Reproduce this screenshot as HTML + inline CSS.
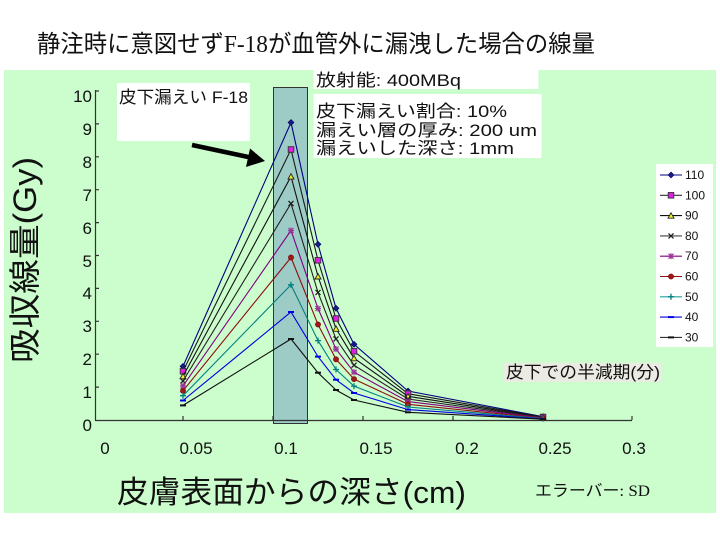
<!DOCTYPE html>
<html><head><meta charset="utf-8"><style>
html,body{margin:0;padding:0;background:#fff;}
svg{display:block;}
text{font-family:"Liberation Sans","Noto Sans CJK JP",sans-serif;fill:#111;}
</style></head><body>
<svg width="720" height="540" viewBox="0 0 720 540" xmlns="http://www.w3.org/2000/svg">
<defs>
<marker id="mDia" viewBox="0 0 10 10" refX="5" refY="5" markerWidth="10" markerHeight="10" markerUnits="userSpaceOnUse"><path d="M5 2 L8 5 L5 8 L2 5 Z" fill="#1a1a8c" stroke="#000060" stroke-width="0.6"/></marker>
<marker id="mSq" viewBox="0 0 10 10" refX="5" refY="5" markerWidth="10" markerHeight="10" markerUnits="userSpaceOnUse"><rect x="2.2" y="2.2" width="5.6" height="5.6" fill="#e020e0" stroke="#333" stroke-width="0.9"/></marker>
<marker id="mTri" viewBox="0 0 10 10" refX="5" refY="5" markerWidth="10" markerHeight="10" markerUnits="userSpaceOnUse"><path d="M5 2.2 L8 7.6 L2 7.6 Z" fill="#f0f020" stroke="#222" stroke-width="0.9"/></marker>
<marker id="mX" viewBox="0 0 10 10" refX="5" refY="5" markerWidth="10" markerHeight="10" markerUnits="userSpaceOnUse"><path d="M2.5 2.5 L7.5 7.5 M7.5 2.5 L2.5 7.5" stroke="#222" stroke-width="1.3"/></marker>
<marker id="mStar" viewBox="0 0 10 10" refX="5" refY="5" markerWidth="10" markerHeight="10" markerUnits="userSpaceOnUse"><path d="M2.5 2.5 L7.5 7.5 M7.5 2.5 L2.5 7.5 M5 2 L5 8 M2 5 L8 5" stroke="#9a339a" stroke-width="1.2"/></marker>
<marker id="mCir" viewBox="0 0 10 10" refX="5" refY="5" markerWidth="10" markerHeight="10" markerUnits="userSpaceOnUse"><circle cx="5" cy="5" r="2.6" fill="#a01818" stroke="#700" stroke-width="0.6"/></marker>
<marker id="mPlus" viewBox="0 0 10 10" refX="5" refY="5" markerWidth="10" markerHeight="10" markerUnits="userSpaceOnUse"><path d="M5 2 L5 8 M2 5 L8 5" stroke="#008080" stroke-width="1.3"/></marker>
<marker id="mD40" viewBox="0 0 10 10" refX="5" refY="5" markerWidth="10" markerHeight="10" markerUnits="userSpaceOnUse"><path d="M2 5 L8 5" stroke="#0000e0" stroke-width="2"/></marker>
<marker id="mD30" viewBox="0 0 10 10" refX="5" refY="5" markerWidth="10" markerHeight="10" markerUnits="userSpaceOnUse"><path d="M2 5 L8 5" stroke="#111" stroke-width="2"/></marker>
</defs>

<text x="37" y="52" font-size="24" textLength="558" lengthAdjust="spacingAndGlyphs">静注時に意図せず<tspan font-family="Liberation Serif, serif">F-18</tspan>が血管外に漏洩した場合の線量</text>

<rect x="4" y="70" width="712" height="443" fill="#ccfdcc"/>

<rect x="273.5" y="87.5" width="34" height="336" fill="#9dcbc6" stroke="#333" stroke-width="1"/>

<g stroke="#333" stroke-width="1.2" fill="none">
<line x1="95.5" y1="90" x2="95.5" y2="420.5"/>
<line x1="95" y1="420.5" x2="632" y2="420.5"/>
<path d="M95 91 H99 M95 123.9 H99 M95 156.8 H99 M95 189.7 H99 M95 222.6 H99 M95 255.5 H99 M95 288.4 H99 M95 321.3 H99 M95 354.2 H99 M95 387.1 H99"/>
<path d="M183 420 V416 M273 420 V416 M363 420 V416 M453 420 V416 M543 420 V416 M632 420 V416"/>
</g>

<g font-size="17" text-anchor="end">
<text x="92" y="102">10</text>
<text x="92" y="135">9</text>
<text x="92" y="168">8</text>
<text x="92" y="201">7</text>
<text x="92" y="234">6</text>
<text x="92" y="267">5</text>
<text x="92" y="299">4</text>
<text x="92" y="332">3</text>
<text x="92" y="365">2</text>
<text x="92" y="398">1</text>
<text x="92" y="431">0</text>
</g>

<g font-size="17" text-anchor="middle">
<text x="105" y="454">0</text>
<text x="196" y="454">0.05</text>
<text x="286" y="454">0.1</text>
<text x="376" y="454">0.15</text>
<text x="467" y="454">0.2</text>
<text x="555" y="454">0.25</text>
<text x="634" y="454">0.3</text>
</g>

<text transform="translate(36,260) rotate(-90)" text-anchor="middle" font-size="32" textLength="206" lengthAdjust="spacingAndGlyphs">吸収線量(Gy)</text>
<text x="117" y="503" font-size="31" textLength="349" lengthAdjust="spacingAndGlyphs">皮膚表面からの深さ(cm)</text>
<text x="535" y="496" font-size="16" textLength="115" lengthAdjust="spacingAndGlyphs">エラーバー<tspan font-family="Liberation Serif, serif">: SD</tspan></text>

<g fill="none" stroke-width="1.1">
<polyline stroke="#000080" marker-start="url(#mDia)" marker-mid="url(#mDia)" marker-end="url(#mDia)" points="183,366.4 291,122.5 318,244.3 336,308.3 354,344.3 408,391 543,416.7"/>
<polyline stroke="#1a1a1a" marker-start="url(#mSq)" marker-mid="url(#mSq)" marker-end="url(#mSq)" points="183,371.3 291,149.5 318,260.3 336,318.5 354,351.3 408,393.7 543,417.0"/>
<polyline stroke="#111" marker-start="url(#mTri)" marker-mid="url(#mTri)" marker-end="url(#mTri)" points="183,376.2 291,176.5 318,276.4 336,328.7 354,358.2 408,396.3 543,417.3"/>
<polyline stroke="#222" marker-start="url(#mX)" marker-mid="url(#mX)" marker-end="url(#mX)" points="183,381.0 291,203.5 318,292.4 336,338.9 354,365.2 408,399.0 543,417.6"/>
<polyline stroke="#800080" marker-start="url(#mStar)" marker-mid="url(#mStar)" marker-end="url(#mStar)" points="183,385.9 291,230.5 318,308.5 336,349.1 354,372.2 408,401.6 543,417.9"/>
<polyline stroke="#8b1010" marker-start="url(#mCir)" marker-mid="url(#mCir)" marker-end="url(#mCir)" points="183,390.8 291,257.5 318,324.5 336,359.3 354,379.1 408,404.3 543,418.3"/>
<polyline stroke="#008080" marker-start="url(#mPlus)" marker-mid="url(#mPlus)" marker-end="url(#mPlus)" points="183,395.7 291,284.8 318,340.6 336,369.5 354,386.1 408,407.0 543,418.6"/>
<polyline stroke="#0000e0" marker-start="url(#mD40)" marker-mid="url(#mD40)" marker-end="url(#mD40)" points="183,400.5 291,312.0 318,356.6 336,379.7 354,393.0 408,409.6 543,418.9"/>
<polyline stroke="#111" marker-start="url(#mD30)" marker-mid="url(#mD30)" marker-end="url(#mD30)" points="183,405.4 291,339.0 318,372.7 336,390.0 354,400.0 408,412.3 543,419.2"/>
</g>

<rect x="117" y="83" width="133" height="58" fill="#fff"/>
<text x="119" y="103" font-size="17" textLength="129" lengthAdjust="spacingAndGlyphs">皮下漏えい F-18</text>

<rect x="313.5" y="70" width="225" height="19" fill="#fff"/>
<text x="316" y="86" font-size="17" textLength="145" lengthAdjust="spacingAndGlyphs">放射能: 400MBq</text>

<rect x="313.5" y="94" width="228" height="64" fill="#fff"/>
<text x="316" y="117" font-size="17" textLength="191" lengthAdjust="spacingAndGlyphs">皮下漏えい割合: 10%</text>
<text x="316" y="136" font-size="17" textLength="221" lengthAdjust="spacingAndGlyphs">漏えい層の厚み: 200 um</text>
<text x="316" y="154" font-size="17" textLength="198" lengthAdjust="spacingAndGlyphs">漏えいした深さ: 1mm</text>

<rect x="504" y="363" width="158" height="19" fill="#ebebe3"/>
<text x="506" y="378" font-size="17" textLength="154" lengthAdjust="spacingAndGlyphs">皮下での半減期(分)</text>

<line x1="192" y1="145" x2="253" y2="158" stroke="#000" stroke-width="4.5"/>
<polygon points="265,161 250,148.5 246,167" fill="#000"/>

<rect x="656" y="164" width="57" height="183" fill="#fff"/>
<g stroke-width="1.1" fill="none">
<polyline stroke="#000080" marker-mid="url(#mDia)" points="660,175 671,175 682,175"/>
<polyline stroke="#333" marker-mid="url(#mSq)" points="660,195.3 671,195.3 682,195.3"/>
<polyline stroke="#111" marker-mid="url(#mTri)" points="660,215.6 671,215.6 682,215.6"/>
<polyline stroke="#444" marker-mid="url(#mX)" points="660,235.9 671,235.9 682,235.9"/>
<polyline stroke="#800080" marker-mid="url(#mStar)" points="660,256.2 671,256.2 682,256.2"/>
<polyline stroke="#8b1010" marker-mid="url(#mCir)" points="660,276.5 671,276.5 682,276.5"/>
<polyline stroke="#20a0a0" marker-mid="url(#mPlus)" points="660,296.8 671,296.8 682,296.8"/>
<polyline stroke="#0000e0" marker-mid="url(#mD40)" points="660,317.1 671,317.1 682,317.1"/>
<polyline stroke="#333" marker-mid="url(#mD30)" points="660,337.4 671,337.4 682,337.4"/>
</g>
<g font-size="12">
<text x="685" y="179">110</text>
<text x="685" y="199.3">100</text>
<text x="685" y="219.6">90</text>
<text x="685" y="239.9">80</text>
<text x="685" y="260.2">70</text>
<text x="685" y="280.5">60</text>
<text x="685" y="300.8">50</text>
<text x="685" y="321.1">40</text>
<text x="685" y="341.4">30</text>
</g>
</svg>
</body></html>
